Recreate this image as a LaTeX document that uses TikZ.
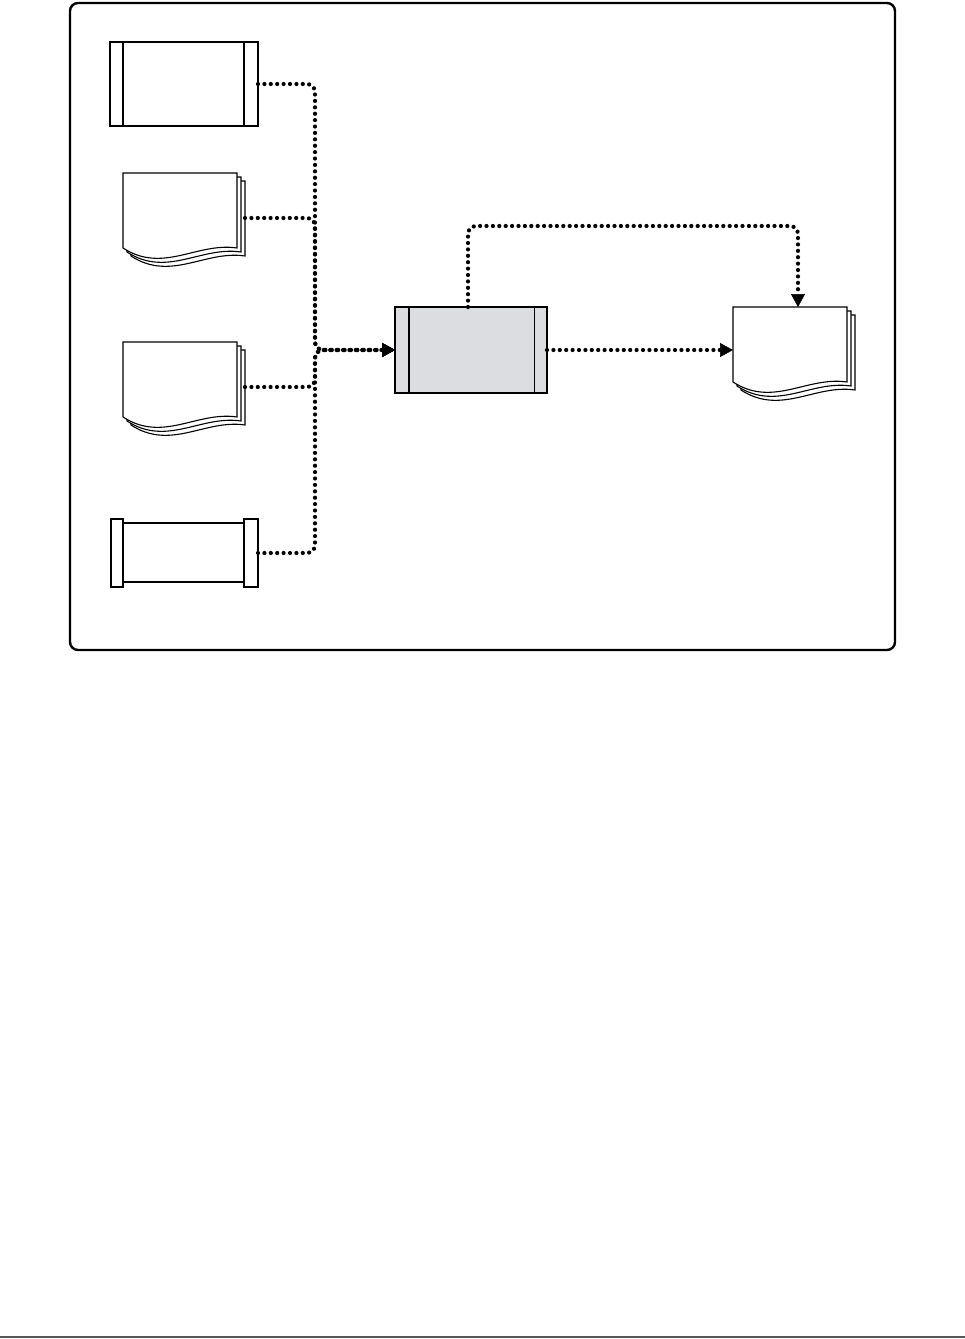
\documentclass[tikz,border=0pt]{standalone}
\usepackage{tikz}
\usetikzlibrary{arrows.meta,calc}
\definecolor{procGray}{HTML}{DCDDE0}
\definecolor{ruleGray}{HTML}{555555}
\tikzset{
    boxBase/.style={
        draw,
        inner sep=0pt,
        outer sep=0pt,
        line width=1.8pt
    },
    % Flowchart shapes
    predef/.style={boxBase, fill=white, minimum width=148pt, minimum height=84pt,
        path picture={
            \draw[line width=1.1pt]
                ([xshift=13pt]path picture bounding box.north west) -- ([xshift=13pt]path picture bounding box.south west)
                ([xshift=-14pt]path picture bounding box.north east) -- ([xshift=-14pt]path picture bounding box.south east);
        }},
    procbox/.style={boxBase, fill=procGray, minimum width=152pt, minimum height=86pt,
        path picture={
            \draw[line width=1.5pt]
                ([xshift=14pt]path picture bounding box.north west) -- ([xshift=14pt]path picture bounding box.south west);
            \draw[line width=0.8pt]
                ([xshift=-13pt]path picture bounding box.north east) -- ([xshift=-13pt]path picture bounding box.south east);
        }},
    docnode/.style={inner sep=0pt, outer sep=0pt, minimum width=122pt, minimum height=90pt},
    rollnode/.style={inner sep=0pt, outer sep=0pt, minimum width=147pt, minimum height=68pt},
    docpage/.style={draw, fill=white, line width=1.1pt},
    rollpart/.style={draw, fill=white, line width=1.1pt},
    % Frame and arrows
    frameBox/.style={draw, line width=2.4pt, rounded corners=8pt},
    flowArrow/.style={line width=4.2pt, line cap=round, dash pattern=on 0pt off 6.4pt,
        rounded corners=8pt, -{Triangle[length=13pt, width=14pt, line width=0.5pt]}}
}
\newcommand{\docStack}[1]{%
    \begin{scope}[shift={(#1.north west)}]
        \foreach \o in {8,4,0}
            \path[docpage] (\o,\o) -- (114+\o,\o) -- (114+\o,75+\o)
                .. controls (74+\o,69+\o) and (40+\o,101+\o) .. (\o,75+\o) -- cycle;
    \end{scope}}
\begin{document}
\begin{tikzpicture}[x=1pt, y=-1pt]
\useasboundingbox (0,0) rectangle (965,1339);
\draw[frameBox] (70,3) rectangle (895,650);

% inputs
\node[predef] (box1) at (184,84) {};
\node[docnode] (doc2) at (184,218) {};
\docStack{doc2}
\node[docnode] (doc3) at (184,387) {};
\docStack{doc3}
\node[rollnode] (box4) at (184.5,553) {};
\begin{scope}[shift={(box4.north west)}]
    \path[rollpart] (12,4) rectangle (133,63);
    \path[rollpart] (0,0) rectangle (12,68);
    \path[rollpart] (133,0) rectangle (147,68);
\end{scope}

% process and output
\node[procbox] (proc) at (471,350) {};
\node[docnode] (dout) at (794,352) {};
\docStack{dout}

\coordinate (jn) at (315,350);
\foreach \src in {box1,doc2,doc3,box4}
    \draw[flowArrow] (\src.east) -| (jn) -- (proc.west);
\draw[flowArrow] (proc.east) -- (proc.east -| dout.west);
\draw[flowArrow] ([xshift=-3pt]proc.north) -- ++(0,-81) -| ([xshift=4pt]dout.north);

\draw[ruleGray, line width=2pt] (0,1337) -- (965,1337);
\end{tikzpicture}
\end{document}
